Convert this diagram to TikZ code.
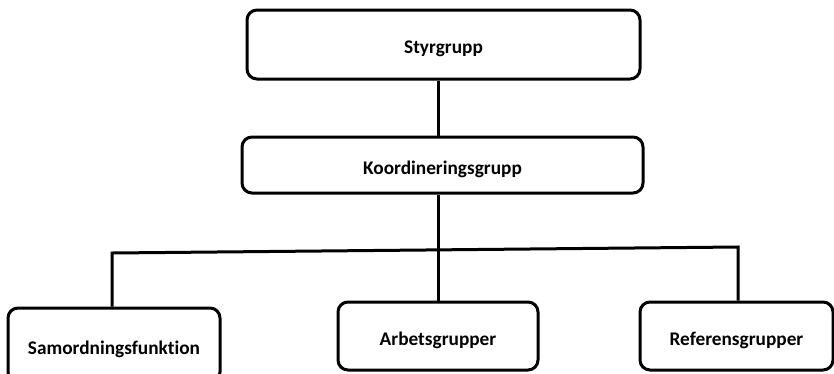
\documentclass[tikz,border=0pt]{standalone}
\usepackage{fontspec}
\setmainfont{Carlito}[Ligatures=NoCommon]
\begin{document}
\begin{tikzpicture}[x=1pt,y=-1pt,font=\fontsize{19.3}{21}\selectfont\bfseries,
	ruta/.style={draw,line width=3pt,rounded corners=10pt,inner sep=0pt,text height=18pt,text depth=0pt},
	lnk/.style={line width=3pt}]
	\useasboundingbox (0,0) rectangle (834,373);
	\clip (0,0) rectangle (834,373);
	\node[ruta,minimum width=393pt,minimum height=69pt] (styr) at (443.5,44.5) {Styrgrupp};
	\node[ruta,minimum width=401pt,minimum height=56pt] (koord) at (442.5,165) {Koordineringsgrupp};
	\node[ruta,minimum width=212pt,minimum height=74pt] (samord) at (114,345) {Samordningsfunktion};
	\node[ruta,minimum width=200pt,minimum height=68pt] (arbets) at (438,336) {Arbetsgrupper};
	\node[ruta,minimum width=193pt,minimum height=68pt] (ref) at (736.5,336) {Referensgrupper};
	\path (438,0) coordinate (mitt)
	(112,253) coordinate (vgren)
	(738,247) coordinate (hgren);
	\draw[lnk] (styr.south -| mitt)--(koord.north -| mitt);
	\draw[lnk] (koord.south -| mitt)--(arbets.north -| mitt);
	\draw[lnk] (samord.north -| vgren)--(vgren)--(hgren)--(ref.north -| hgren);
\end{tikzpicture}
\end{document}
